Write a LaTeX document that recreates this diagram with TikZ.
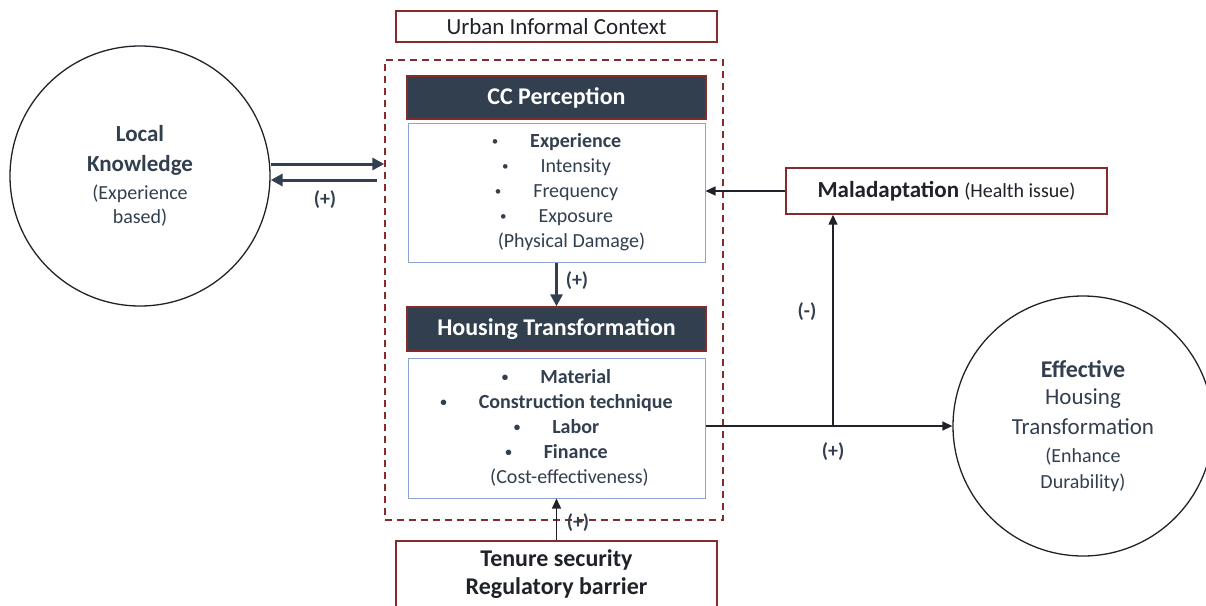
\documentclass[tikz,border=0pt]{standalone}
\usepackage{fontspec}
\setmainfont{Carlito}
\usetikzlibrary{arrows.meta,calc}
\definecolor{slate}{HTML}{323F4F}
\definecolor{darkred}{HTML}{842C2C}
\definecolor{lblue}{HTML}{8FA3CF}
\definecolor{ink}{HTML}{1F2329}
\newcommand{\bl}[1]{\raisebox{2pt}{\fontsize{13}{13}\selectfont\textbullet}\hspace{32pt}#1}
\tikzset{
  redbox/.style={draw=darkred, line width=1.4pt, fill=white, inner sep=0pt, text=ink},
  headbox/.style={draw=darkred, line width=1.4pt, fill=slate, text=white, inner sep=0pt, minimum width=299pt, minimum height=43pt, font=\fontsize{24}{28}\selectfont\bfseries},
  bodybox/.style={draw=lblue, line width=1pt, fill=white, inner sep=0pt, minimum width=297pt, minimum height=139pt, align=center, text=slate, font=\fontsize{20}{25}\selectfont},
  bigcirc/.style={circle, draw=ink, line width=1.3pt, minimum size=260pt, inner sep=0pt, align=center, text=slate},
  thickarr/.style={draw=slate, line width=3pt, -{Triangle[length=12pt,width=12pt]}},
  thinarr/.style={draw=ink, line width=1.4pt, -{Triangle[length=10pt,width=9pt]}},
  sign/.style={text=slate, font=\fontsize{20}{24}\selectfont\bfseries, inner sep=0pt}
}
\begin{document}
\begin{tikzpicture}[x=1pt,y=-1pt]
\useasboundingbox (0,0) rectangle (1206,605);
% context
\node[redbox, minimum width=321pt, minimum height=31pt, font=\fontsize{23}{26}\selectfont] (urban) at (556.5,26.5) {Urban Informal Context};
\node[draw=darkred, dashed, dash pattern=on 7pt off 5pt, line width=1.4pt, minimum width=338pt, minimum height=460pt, inner sep=0pt] (ctx) at (554,290) {};
% CC perception
\node[headbox] (cchead) at (556.5,97.5) {CC Perception};
\node[bodybox] (ccbody) at (556.5,192.5) {\bl{\textbf{Experience}}\\ \bl{Intensity}\\ \bl{Frequency}\\ \bl{Exposure}\\ \hspace*{30pt}(Physical Damage)};
% housing transformation
\node[headbox, minimum height=44pt] (hthead) at (556.5,329) {Housing Transformation};
\node[bodybox, minimum height=140pt, font=\fontsize{20}{25}\selectfont\bfseries] (htbody) at (556.5,428) {\bl{Material}\\ \bl{Construction technique}\\ \bl{Labor}\\ \bl{Finance}\\ \hspace*{26pt}\mdseries(Cost-effectiveness)};
% tenure
\node[redbox, minimum width=321pt, minimum height=66pt, align=center, font=\fontsize{24}{28}\selectfont\bfseries] (tenure) at (556.5,574) {Tenure security\\ Regulatory barrier};
% maladaptation
\node[redbox, minimum width=321pt, minimum height=46pt] (malad) at (946.5,191) {\fontsize{23}{26}\selectfont\bfseries Maladaptation\ \fontsize{20}{26}\selectfont\mdseries (Health issue)};
% circles
\node[bigcirc, font=\fontsize{20}{24}\selectfont] (local) at (140,176) {\fontsize{23}{24}\selectfont\bfseries Local\\[6pt] \fontsize{23}{24}\selectfont\bfseries Knowledge\\[4pt] (Experience\\ based)};
\node[bigcirc, font=\fontsize{20}{26}\selectfont] (eff) at (1083,426) {\fontsize{24}{26}\selectfont\bfseries Effective\\[1pt] \fontsize{23}{26}\selectfont Housing\\[4pt] \fontsize{23}{26}\selectfont Transformation\\[2pt] (Enhance\\ Durability)};
% connectors
\coordinate (ret) at (377,180);
\draw[thickarr] (local.east |- 0,164) -- (ctx.west |- 0,164);
\draw[thickarr] (ret) -- (local.east |- ret);
\node[sign] (s1) at (325,200) {(+)};
\draw[thickarr] (ccbody.south) -- (hthead.north);
\node[sign] (s2) at (577,281) {(+)};
\draw[thinarr] (tenure.north) -- (htbody.south);
\node[sign] (s3) at (578,523) {(+)};
\draw[thinarr] (malad.west) -- (ccbody.east |- malad.west);
\coordinate (j) at (833,426);
\draw[thinarr] (htbody.east |- eff.west) -- (eff.west);
\draw[thinarr] (j) -- (j |- malad.south);
\node[sign] (s4) at (807,312) {(-)};
\node[sign] (s5) at (833,452) {(+)};
\end{tikzpicture}
\end{document}
